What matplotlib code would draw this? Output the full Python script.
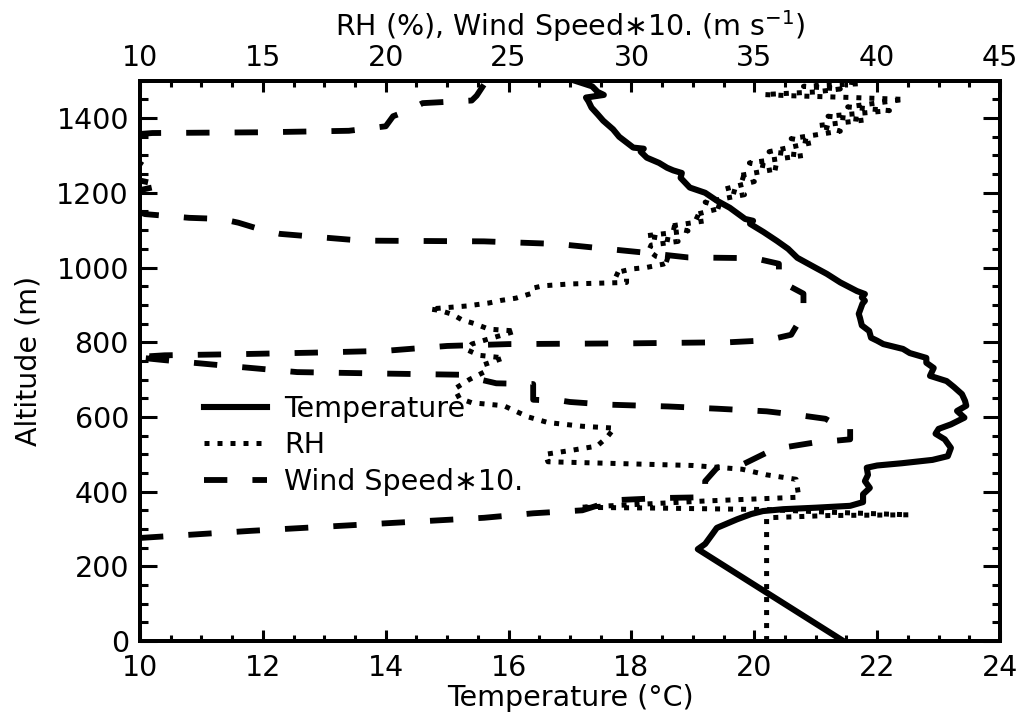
import matplotlib
matplotlib.use("Agg")
import matplotlib.pyplot as plt
from matplotlib.ticker import MultipleLocator

# ==========================================
# 1. DATA
# ==========================================
# Temperature (deg C) vs altitude (m)
temp_alt = [0, 246, 260, 287, 303, 326, 340, 348, 353, 357, 362, 372, 393, 410, 428,
            445, 464, 470, 476, 485, 495, 517, 540, 555, 568, 580, 598, 616, 630,
            643, 661, 680, 696, 710, 731, 745, 758, 771, 782, 795, 804, 812, 830,
            845, 865, 876, 903, 911, 920, 929, 937, 960, 983, 999, 1026, 1050, 1071,
            1095, 1117, 1125, 1130, 1160, 1179, 1200, 1214, 1240, 1253, 1260, 1267,
            1280, 1294, 1310, 1318, 1321, 1350, 1370, 1393, 1410, 1428, 1445, 1455,
            1462, 1470, 1485, 1500]
temp_val = [21.45, 19.08, 19.2, 19.32, 19.39, 19.72, 19.95, 20.14, 20.47, 21.0, 21.56,
            21.77, 21.77, 21.88, 21.8, 21.85, 21.83, 22.0, 22.4, 22.9, 23.15, 23.2,
            23.1, 22.95, 23.0, 23.2, 23.42, 23.3, 23.45, 23.43, 23.38, 23.25, 23.13,
            22.86, 22.92, 22.8, 22.8, 22.53, 22.42, 22.1, 22.0, 21.9, 21.87, 21.75,
            21.72, 21.7, 21.76, 21.8, 21.75, 21.8, 21.67, 21.4, 21.18, 21.0, 20.7,
            20.55, 20.37, 20.15, 19.93, 19.98, 19.85, 19.6, 19.39, 19.2, 18.95, 18.8,
            18.82, 18.68, 18.58, 18.45, 18.25, 18.15, 18.2, 18.03, 17.8, 17.7, 17.54,
            17.45, 17.35, 17.3, 17.26, 17.55, 17.45, 17.36, 17.08]

# RH (%) vs altitude (m)
rh_alt = [0, 330, 336, 338, 345, 352, 356, 358, 365, 375, 385, 390, 433, 445, 460,
          470, 476, 480, 500, 510, 522, 545, 570, 575, 585, 600, 615, 630, 638, 650,
          675, 700, 720, 740, 758, 765, 780, 795, 805, 830, 835, 850, 860, 875, 885,
          889, 897, 905, 912, 918, 930, 945, 951, 956, 960, 970, 985, 996, 1000,
          1009, 1018, 1030, 1045, 1060, 1070, 1085, 1098, 1110, 1125, 1140, 1160,
          1175, 1195, 1210, 1230, 1245, 1265, 1280, 1300, 1310, 1335, 1345, 1365,
          1380, 1395, 1405, 1420, 1430, 1450, 1455, 1460, 1463, 1470, 1478, 1485,
          1492, 1500]
rh_val = [35.5, 35.5, 38.0, 41.3, 38.0, 35.5, 31.0, 27.9, 30.0, 33.0, 36.8, 36.8,
          36.7, 35.5, 34.5, 32.5, 29.0, 26.6, 26.5, 27.5, 28.6, 29.0, 29.3, 28.0,
          26.6, 25.8, 25.3, 24.8, 23.5, 23.0, 22.8, 23.4, 24.0, 24.0, 24.8, 23.8,
          23.3, 23.5, 24.0, 25.3, 24.2, 23.6, 23.1, 22.7, 22.2, 21.8, 23.3, 24.2,
          24.7, 25.3, 25.9, 26.0, 26.4, 27.5, 29.8, 29.8, 29.3, 30.0, 30.6, 31.3,
          31.6, 31.0, 30.7, 30.8, 31.9, 30.6, 32.3, 31.5, 33.0, 32.5, 33.7, 33.0,
          34.6, 33.8, 35.0, 34.3, 36.0, 34.8, 37.0, 35.6, 37.4, 36.5, 38.5, 37.6,
          39.5, 38.0, 40.5, 38.8, 41.1, 39.0, 36.4, 35.4, 37.5, 38.5, 37.0, 39.3,
          38.5]

# Wind speed * 10 (m/s) vs altitude (m)
wind_alt = [276, 295, 316, 330, 342, 350, 377, 383, 385, 428, 465, 472, 514, 531,
            540, 572, 576, 595, 605, 615, 622, 628, 633, 640, 643, 646, 688, 690,
            713, 716, 720, 740, 752, 760, 765, 768, 772, 777, 790, 795, 797, 800,
            805, 820, 875, 930, 965, 1010, 1025, 1027, 1040, 1063, 1070, 1072, 1090,
            1100, 1120, 1130, 1133, 1143, 1160, 1200, 1220, 1240, 1265, 1300, 1355,
            1360, 1362, 1366, 1378, 1405, 1420, 1440, 1447, 1460, 1490, 1500]
wind_val = [10.0, 14.5, 20.2, 24.0, 26.0, 28.0, 29.3, 31.3, 33.0, 33.0, 33.5, 34.5,
            35.8, 37.4, 38.9, 38.9, 38.4, 37.9, 36.8, 35.5, 33.5, 31.5, 29.0, 27.5,
            27.2, 26.0, 26.0, 24.5, 23.0, 20.0, 16.4, 13.0, 11.0, 9.8, 11.0, 14.0,
            17.0, 20.0, 22.5, 25.0, 30.0, 34.0, 35.5, 36.5, 37.0, 37.0, 36.0, 36.0,
            35.0, 32.3, 30.5, 27.0, 24.0, 19.0, 15.7, 15.0, 14.0, 13.3, 12.0, 10.2,
            9.5, 9.5, 10.9, 9.5, 10.3, 9.5, 9.5, 10.5, 15.0, 18.5, 20.0, 20.3, 20.9,
            21.5, 23.5, 23.7, 24.0, 24.2]

# ==========================================
# 2. FIGURE
# ==========================================
plt.rcParams['font.family'] = ['DejaVu Sans']
plt.rcParams['font.size'] = 20.5

fig = plt.figure(figsize=(10.19, 7.26), dpi=100)
ax = fig.add_axes([0.1374, 0.117, 0.844, 0.7718])
ax2 = ax.twiny()

line_t, = ax.plot(temp_val, temp_alt, color='black', lw=4.4, solid_joinstyle='round')
line_rh, = ax2.plot(rh_val, rh_alt, color='black', lw=3.6, linestyle=(0, (1, 1.6)))
line_w, = ax2.plot(wind_val, wind_alt, color='black', lw=4.2, linestyle=(0, (4, 4.3)))

ax.set_xlim(10, 24)
ax.set_ylim(0, 1500)
ax2.set_xlim(10, 45)

ax.xaxis.set_major_locator(MultipleLocator(2))
ax.xaxis.set_minor_locator(MultipleLocator(0.5))
ax.yaxis.set_major_locator(MultipleLocator(200))
ax.yaxis.set_minor_locator(MultipleLocator(50))
ax2.xaxis.set_major_locator(MultipleLocator(5))
ax2.xaxis.set_minor_locator(MultipleLocator(1.25))

for a in (ax, ax2):
    for sp in a.spines.values():
        sp.set_linewidth(2.8)

ax.tick_params(axis='x', which='major', direction='in', length=8, width=2.2, pad=9)
ax.tick_params(axis='x', which='minor', direction='in', length=4.5, width=2.2)
ax.tick_params(axis='y', which='major', direction='in', length=12, width=2.2, pad=8,
               right=True)
ax.tick_params(axis='y', which='minor', direction='in', length=6, width=2.2, right=True)
ax2.tick_params(axis='x', which='major', direction='in', length=8, width=2.2, pad=6)
ax2.tick_params(axis='x', which='minor', direction='in', length=4.5, width=2.2)

ax.set_xlabel('Temperature (°C)', labelpad=2)
ax.set_ylabel('Altitude (m)', labelpad=10)
ax2.set_xlabel('RH (%), Wind Speed\u221710. (m s$^{-1}$)', labelpad=6)

ax2.legend([line_t, line_rh, line_w], ['Temperature', 'RH', 'Wind Speed\u221710.'],
           loc='upper left', bbox_to_anchor=(0.058, 0.465), frameon=False,
           handlelength=2.2, handletextpad=0.6, labelspacing=0.3, borderpad=0)

fig.savefig('out.png', dpi=100)
